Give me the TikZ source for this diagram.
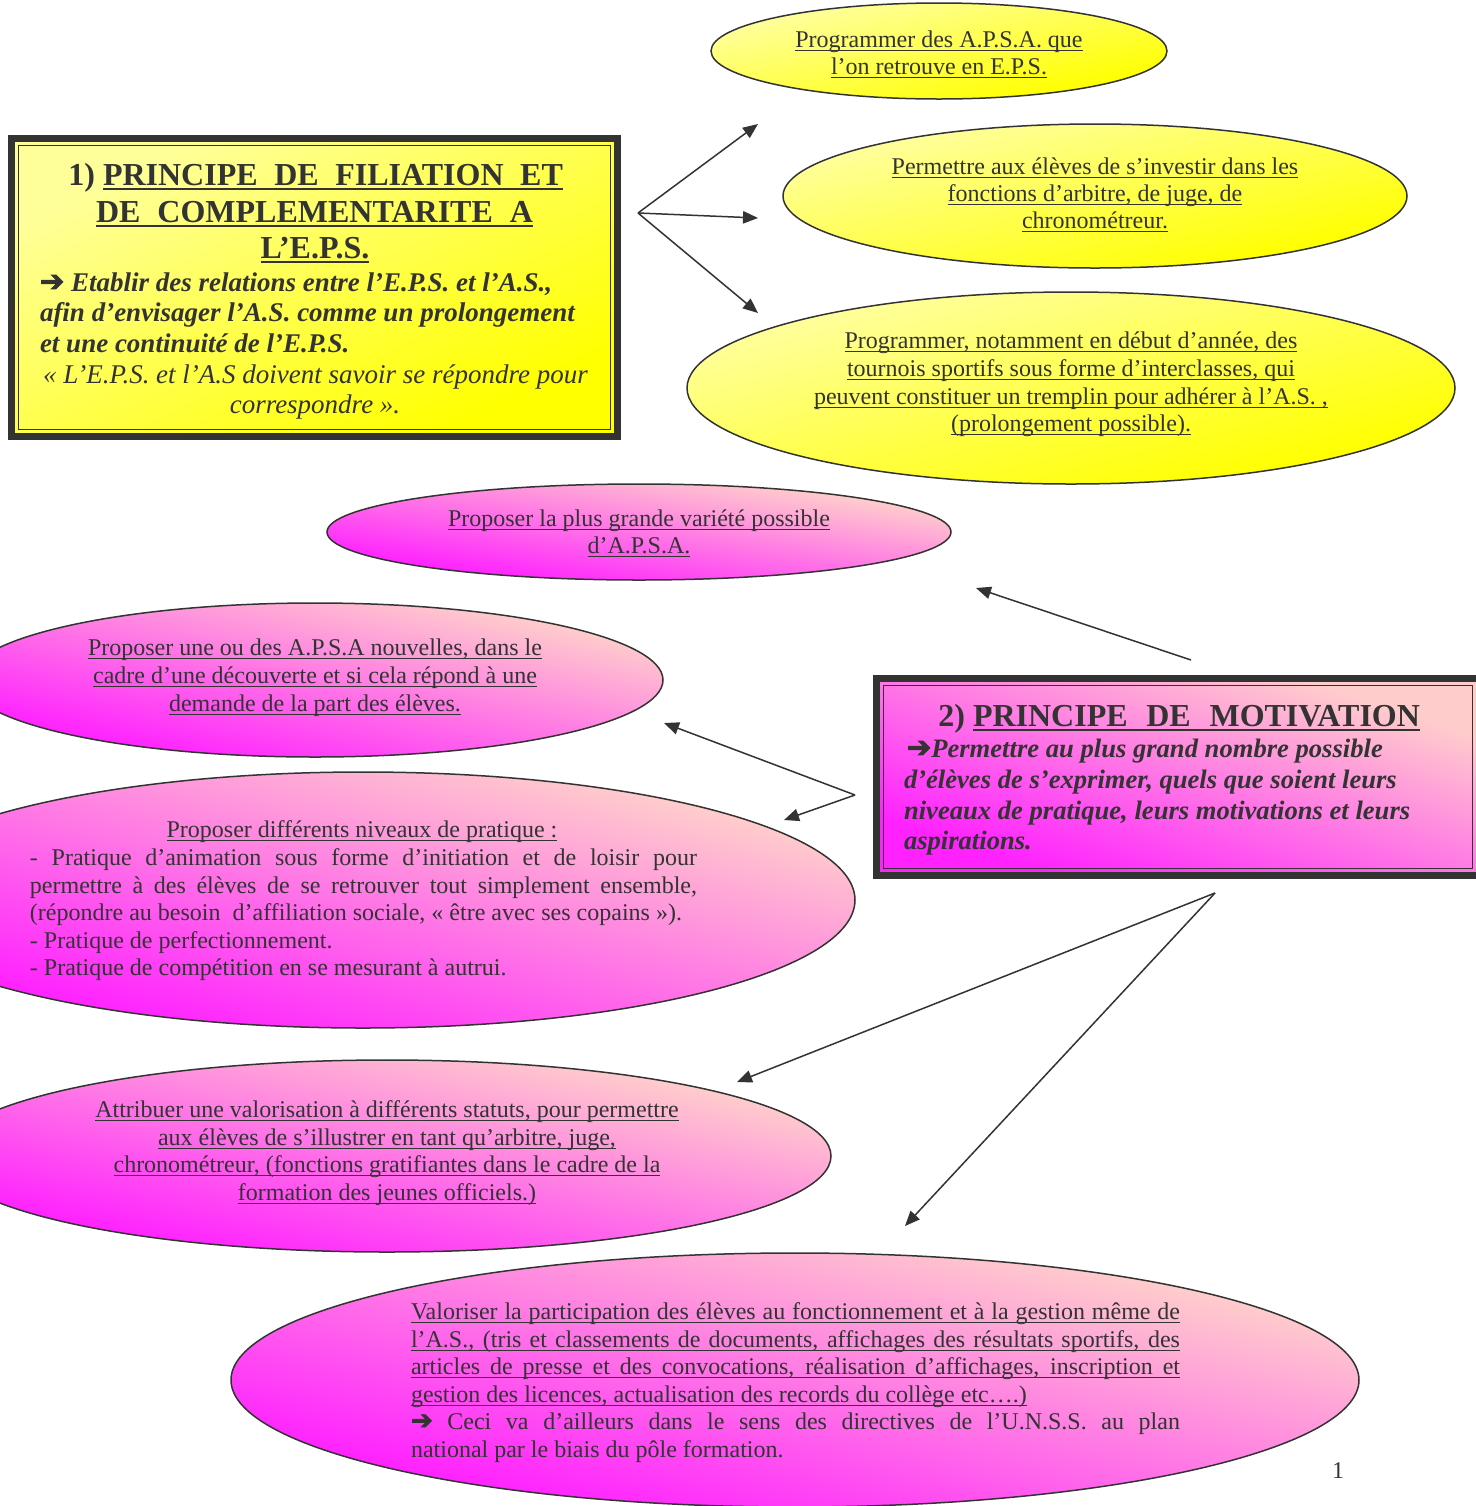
\documentclass[tikz,border=0pt]{standalone}
\usepackage{fontspec}
\setmainfont{Liberation Serif}
\newfontfamily\symf{DejaVu Sans}[FakeBold=3]
\usetikzlibrary{shapes.geometric,arrows.meta}
\definecolor{dk}{HTML}{333333}
\definecolor{ylight}{HTML}{FFFF9A}
\definecolor{ydark}{HTML}{FFFF00}
\definecolor{plight}{HTML}{FFCCCC}
\definecolor{pdark}{HTML}{FF22FF}
\newcommand\ulu[1]{\setbox0\hbox{#1}\rlap{\rule[-2pt]{\wd0}{0.55pt}}\box0}
\newcommand\ulb[1]{\setbox0\hbox{#1}\rlap{\rule[-2.6pt]{\wd0}{1.1pt}}\box0}
\newcommand\harr{{\symf\fontsize{14.5}{15}\selectfont ➔}}
\newcommand\harrs{{\symf\fontsize{13}{14}\selectfont ➔}}
% shading of an ellipse / rectangle in normalised coordinates (diagonal gradient)
\newcommand\eshade[5]{%
  \begin{scope}[transform canvas={shift={(#2,#3)}, xscale=#4/#5}]
    \shade[#1] (0,0) circle[radius=#5];
  \end{scope}}
\newcommand\bshade[5]{%
  \begin{scope}[transform canvas={shift={(#2,#3)}, xscale=#4/#5}]
    \shade[#1] (-#5,-#5) rectangle (#5,#5);
  \end{scope}}
\tikzset{
  yshade/.style={top color=ylight, bottom color=ydark, shading angle=45},
  pshade/.style={top color=plight, bottom color=pdark, shading angle=-45},
  oval/.style={ellipse, draw=dk, line width=0.75pt, inner sep=0pt, outer sep=0pt},
  frame/.style={rectangle, draw=dk, line width=3.5pt, inner sep=0pt, outer sep=0pt},
  txt/.style={inner sep=0pt, outer sep=0pt, text=dk, anchor=base, font=\fontsize{12}{13.8}\selectfont},
  ttl/.style={txt, font=\fontsize{16}{18.4}\selectfont\bfseries},
  bix/.style={txt, font=\fontsize{13.5}{15}\selectfont\bfseries\itshape},
  bixb/.style={txt, font=\fontsize{13.3}{15}\selectfont\bfseries\itshape},
  itx/.style={txt, font=\fontsize{13.5}{15}\selectfont\itshape},
  arr/.style={dk, line width=0.75pt, -{Triangle[length=7.5pt,width=6.2pt]}}
}
\begin{document}
\begin{tikzpicture}[x=0.5pt,y=-0.5pt]
\useasboundingbox (0,0) rectangle (1476,1506);
\fill[white] (0,0) rectangle (1476,1506);

% ---------- Box 1 ----------
\bshade{yshade}{314.5}{287.5}{303}{149}
\node[frame, minimum width=303pt, minimum height=149pt] (box1) at (314.5,287.5) {};
\draw[dk, line width=0.8pt] ([shift={(7,7)}]box1.north west) rectangle ([shift={(-7,-7)}]box1.south east);
\node[ttl, anchor=base east] (b1t1) at (563,185) {1)\ \ulb{\hbox to 230pt{PRINCIPE\hfil DE\hfil FILIATION\hfil ET}}};
\node[ttl, anchor=base west] (b1t2) at (96,222) {\ulb{\hbox to 218.5pt{DE\hfil COMPLEMENTARITE\hfil A}}};
\node[ttl] (b1t3) at (315,258) {\ulb{L’E.P.S.}};
\node[bix, anchor=base west] (b1l1) at (40,291) {\harr\ Etablir des relations entre l’E.P.S. et l’A.S.,};
\node[bix, anchor=base west] (b1l2) at (40,321) {afin d’envisager l’A.S. comme un prolongement};
\node[bix, anchor=base west] (b1l3) at (40,352) {et une continuité de l’E.P.S.};
\node[itx, anchor=base west] (b1l4) at (43,383) {« L’E.P.S. et l’A.S doivent savoir se répondre pour};
\node[itx] (b1l5) at (315,413) {correspondre ».};

% ---------- Yellow ellipses ----------
\eshade{yshade}{939}{51}{228}{48}
\node[oval, minimum width=228pt, minimum height=48pt] (y1) at (939,51) {};
\node[txt] (y1a) at (939,47) {\ulu{Programmer des A.P.S.A. que}};
\node[txt] (y1b) at (939,74) {\ulu{l’on retrouve en E.P.S.}};

\eshade{yshade}{1095}{196}{312}{72}
\node[oval, minimum width=312pt, minimum height=72pt] (y2) at (1095,196) {};
\node[txt] (y2a) at (1095,174) {\ulu{Permettre aux élèves de s’investir dans les}};
\node[txt] (y2b) at (1095,201) {\ulu{fonctions d’arbitre, de juge, de}};
\node[txt] (y2c) at (1095,228) {\ulu{chronométreur.}};

\eshade{yshade}{1071}{388}{384}{96}
\node[oval, minimum width=384pt, minimum height=96pt] (y3) at (1071,388) {};
\node[txt] (y3a) at (1071,348) {\ulu{Programmer, notamment en début d’année, des}};
\node[txt] (y3b) at (1071,376) {\ulu{tournois sportifs sous forme d’interclasses, qui}};
\node[txt] (y3c) at (1071,404) {\ulu{peuvent constituer un tremplin pour adhérer à l’A.S. ,}};
\node[txt] (y3d) at (1071,431) {\ulu{(prolongement possible).}};

% arrows from box 1
\coordinate (f1) at (638,213);
\coordinate (a1) at (758,124);
\coordinate (a2) at (758,218);
\coordinate (a3) at (758,313);
\draw[arr] (f1) -- (a1);
\draw[arr] (f1) -- (a2);
\draw[arr] (f1) -- (a3);

% ---------- Pink ellipses ----------
\eshade{pshade}{639}{532}{312}{48}
\node[oval, minimum width=312pt, minimum height=48pt] (m1) at (639,532) {};
\node[txt] (m1a) at (639,526) {\ulu{Proposer la plus grande variété possible}};
\node[txt] (m1b) at (639,553) {\ulu{d’A.P.S.A.}};

\eshade{pshade}{315}{680}{348}{77}
\node[oval, minimum width=348pt, minimum height=77pt] (m2) at (315,680) {};
\node[txt] (m2a) at (315,655) {\ulu{Proposer une ou des A.P.S.A nouvelles, dans le}};
\node[txt] (m2b) at (315,683) {\ulu{cadre d’une découverte et si cela répond à une}};
\node[txt] (m2c) at (315,711) {\ulu{demande de la part des élèves.}};

\eshade{pshade}{363}{900}{492}{128}
\node[oval, minimum width=492pt, minimum height=128pt] (m3) at (363,900) {};
\node[txt] (m3a) at (362,837) {\ulu{Proposer différents niveaux de pratique :}};
\node[txt, anchor=base west] (m3b) at (30,865) {\hbox to 333.5pt{- Pratique d’animation sous forme d’initiation et de loisir pour}};
\node[txt, anchor=base west] (m3c) at (30,893) {\hbox to 333.5pt{permettre à des élèves de se retrouver tout simplement ensemble,}};
\node[txt, anchor=base west] (m3d) at (30,920) {(répondre au besoin\ \ d’affiliation sociale, « être avec ses copains »).};
\node[txt, anchor=base west] (m3e) at (30,948) {- Pratique de perfectionnement.};
\node[txt, anchor=base west] (m3f) at (30,975) {- Pratique de compétition en se mesurant à autrui.};

\eshade{pshade}{387}{1156}{444}{96}
\node[oval, minimum width=444pt, minimum height=96pt] (m4) at (387,1156) {};
\node[txt] (m4a) at (387,1117) {\ulu{Attribuer une valorisation à différents statuts, pour permettre}};
\node[txt] (m4b) at (387,1145) {\ulu{aux élèves de s’illustrer en tant qu’arbitre, juge,}};
\node[txt] (m4c) at (387,1172) {\ulu{chronométreur, (fonctions gratifiantes dans le cadre de la}};
\node[txt] (m4d) at (387,1200) {\ulu{formation des jeunes officiels.)}};

\eshade{pshade}{795}{1380}{564}{127}
\node[oval, minimum width=564pt, minimum height=127pt] (m5) at (795,1380) {};
\node[txt, anchor=base west] (m5a) at (411,1319) {\ulu{\hbox to 384.5pt{Valoriser la participation des élèves au fonctionnement et à la gestion même de}}};
\node[txt, anchor=base west] (m5b) at (411,1347) {\ulu{\hbox to 384.5pt{l’A.S., (tris et classements de documents, affichages des résultats sportifs, des}}};
\node[txt, anchor=base west] (m5c) at (411,1374) {\ulu{\hbox to 384.5pt{articles de presse et des convocations, réalisation d’affichages, inscription et}}};
\node[txt, anchor=base west] (m5d) at (411,1402) {\ulu{gestion des licences, actualisation des records du collège etc….)}};
\node[txt, anchor=base west] (m5e) at (411,1429) {\hbox to 384.5pt{\harrs\ Ceci va d’ailleurs dans le sens des directives de l’U.N.S.S. au plan}};
\node[txt, anchor=base west] (m5f) at (411,1457) {national par le biais du pôle formation.};

% ---------- Box 2 ----------
\bshade{pshade}{1178}{777}{301.5}{98.5}
\node[frame, minimum width=301.5pt, minimum height=98.5pt] (box2) at (1178,777) {};
\draw[dk, line width=0.8pt] ([shift={(7,7)}]box2.north west) rectangle ([shift={(-7,-7)}]box2.south east);
\node[ttl, anchor=base east] (b2t) at (1420,726) {2)\ \ulb{\hbox to 223.5pt{PRINCIPE\hfil DE\hfil MOTIVATION}}};
\node[bixb, anchor=base west] (b2l1) at (907,757) {\harr Permettre au plus grand nombre possible};
\node[bixb, anchor=base west] (b2l2) at (904,788) {d’élèves de s’exprimer, quels que soient leurs};
\node[bixb, anchor=base west] (b2l3) at (904,819) {niveaux de pratique, leurs motivations et leurs};
\node[bixb, anchor=base west] (b2l4) at (904,849) {aspirations.};

% arrows from box 2
\coordinate (f2) at (1191,660);
\coordinate (a4) at (976,588);
\draw[arr] (f2) -- (a4);
\coordinate (f3) at (855,795);
\coordinate (a5) at (664,723);
\coordinate (a6) at (784,820);
\draw[arr] (f3) -- (a5);
\draw[arr] (f3) -- (a6);
\coordinate (f4) at (1215,893);
\coordinate (a7) at (737,1082);
\coordinate (a8) at (905,1226);
\draw[arr] (f4) -- (a7);
\draw[arr] (f4) -- (a8);

% page number
\node[txt] (pg) at (1338,1478) {1};
\end{tikzpicture}
\end{document}
